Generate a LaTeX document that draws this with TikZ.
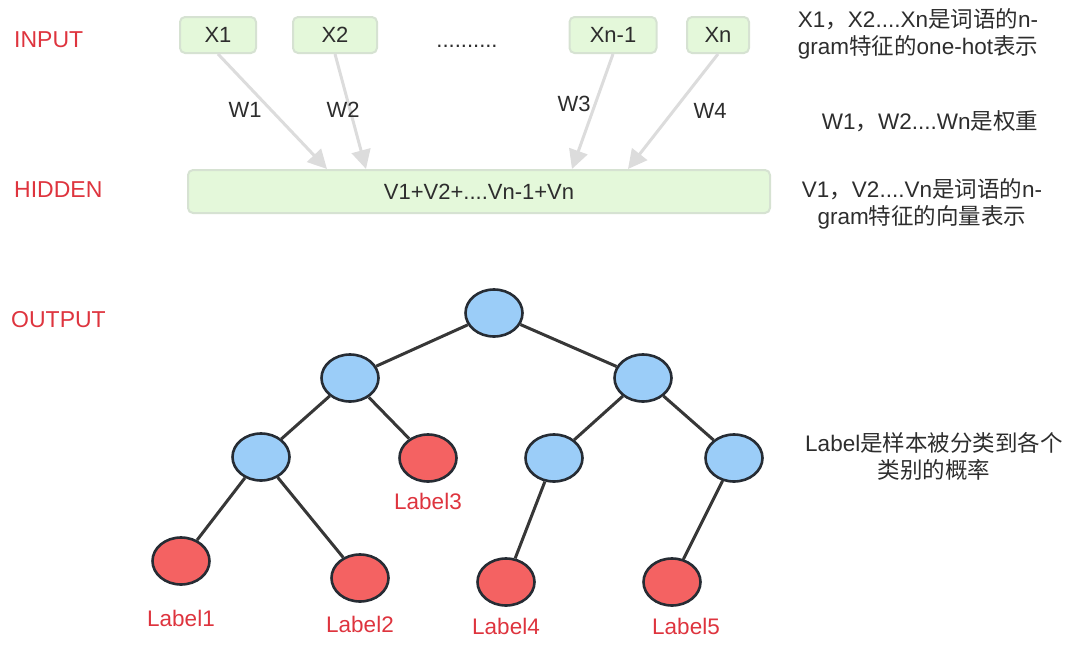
\documentclass[tikz,border=0pt]{standalone}
\usepackage{fontspec}
\setmainfont{Liberation Sans}
\newfontfamily\cjk{Noto Sans CJK SC}
\usetikzlibrary{arrows.meta,shapes.geometric}
\definecolor{txt}{RGB}{45,45,45}
\definecolor{redtxt}{RGB}{222,52,62}
\definecolor{boxfill}{RGB}{228,248,218}
\definecolor{boxline}{RGB}{214,226,210}
\definecolor{arrgray}{RGB}{220,220,220}
\definecolor{blueN}{RGB}{155,205,248}
\definecolor{redN}{RGB}{244,98,98}
\definecolor{nodeline}{RGB}{38,44,52}
\definecolor{edgeC}{RGB}{55,55,55}
\tikzset{
  lbl/.style={font=\fontsize{22}{26}\selectfont, text=txt, inner sep=0pt},
  sect/.style={font=\fontsize{23}{27}\selectfont, text=redtxt, inner sep=0pt, anchor=west},
  inbox/.style={draw=boxline, line width=2pt, fill=boxfill, rounded corners=5pt, font=\fontsize{22}{26}\selectfont, text=txt, inner sep=0pt},
  warr/.style={draw=arrgray, line width=3pt, -{Triangle[width=19pt,length=19pt]}},
  bnode/.style={ellipse, draw=nodeline, line width=2.6pt, fill=blueN, minimum width=57pt, minimum height=47pt, inner sep=0pt},
  rnode/.style={ellipse, draw=nodeline, line width=2.6pt, fill=redN, minimum width=57pt, minimum height=47pt, inner sep=0pt},
  edge/.style={draw=edgeC, line width=3pt},
  rlbl/.style={font=\fontsize{22.5}{26}\selectfont, text=redtxt, inner sep=0pt},
  note/.style={font=\fontsize{22.5}{27}\selectfont, text=txt, inner sep=0pt, align=center}
}
\begin{document}
\begin{tikzpicture}[x=1pt,y=-1pt]
\useasboundingbox (0,0) rectangle (1080,653);
% section titles
\node[sect] (tin) at (14,40) {INPUT};
\node[sect] (thid) at (14,190) {HIDDEN};
\node[sect] (tout) at (11,320) {OUTPUT};
% input boxes
\node[inbox, minimum width=76pt, minimum height=36pt] (x1) at (218,35) {X1};
\node[inbox, minimum width=84pt, minimum height=36pt] (x2) at (335,35) {X2};
\node[lbl, anchor=base] (dots) at (467,47) {..........};
\node[inbox, minimum width=87pt, minimum height=36pt] (xn1) at (613,35) {Xn-1};
\node[inbox, minimum width=62pt, minimum height=36pt] (xn) at (718,35) {Xn};
% hidden box
\node[inbox, minimum width=582pt, minimum height=43pt] (hid) at (479,191.5) {V1+V2+....Vn-1+Vn};
% arrows
\draw[warr] (x1.south) -- (327,0 |- hid.north);
\draw[warr] (x2.south) -- (366,0 |- hid.north);
\draw[warr] (xn1.south) -- (572,0 |- hid.north);
\draw[warr] (xn.south) -- (628,0 |- hid.north);
% weights
\node[lbl] (w1) at (245,110) {W1};
\node[lbl] (w2) at (343,110) {W2};
\node[lbl] (w3) at (574,104) {W3};
\node[lbl] (w4) at (710,111) {W4};
% notes
\node[note] (n1) at (918,34) {X1{\cjk ，}X2....Xn{\cjk 是词语的}n-\\gram{\cjk 特征的}one-hot{\cjk 表示}};
\node[note] (n2) at (930,121) {W1{\cjk ，}W2....Wn{\cjk 是权重}};
\node[note] (n3) at (922,204) {V1{\cjk ，}V2....Vn{\cjk 是词语的}n-\\gram{\cjk 特征的向量表示}};
\node[note] (n4) at (934,456) {Label{\cjk 是样本被分类到各个}\\{\cjk 类别的概率}};
% tree
\node[bnode] (root) at (494,313) {};
\node[bnode] (l1) at (350,378) {};
\node[bnode] (r1) at (643,378) {};
\node[bnode] (ll) at (261,457) {};
\node[rnode] (lab3) at (428,458) {};
\node[bnode] (rl) at (554,458) {};
\node[bnode] (rr) at (734,458) {};
\node[rnode] (lab1) at (181,561) {};
\node[rnode] (lab2) at (360,578) {};
\node[rnode] (lab4) at (506,582) {};
\node[rnode] (lab5) at (672,582) {};
\draw[edge] (root) -- (l1);
\draw[edge] (root) -- (r1);
\draw[edge] (l1) -- (ll);
\draw[edge] (l1) -- (lab3);
\draw[edge] (r1) -- (rl);
\draw[edge] (r1) -- (rr);
\draw[edge] (ll) -- (lab1);
\draw[edge] (ll) -- (lab2);
\draw[edge] (rl) -- (lab4);
\draw[edge] (rr) -- (lab5);
% leaf labels
\node[rlbl] (t3) at (428,501) {Label3};
\node[rlbl] (t1) at (181,618) {Label1};
\node[rlbl] (t2) at (360,624) {Label2};
\node[rlbl] (t4) at (506,626) {Label4};
\node[rlbl] (t5) at (686,626) {Label5};
\end{tikzpicture}
\end{document}
